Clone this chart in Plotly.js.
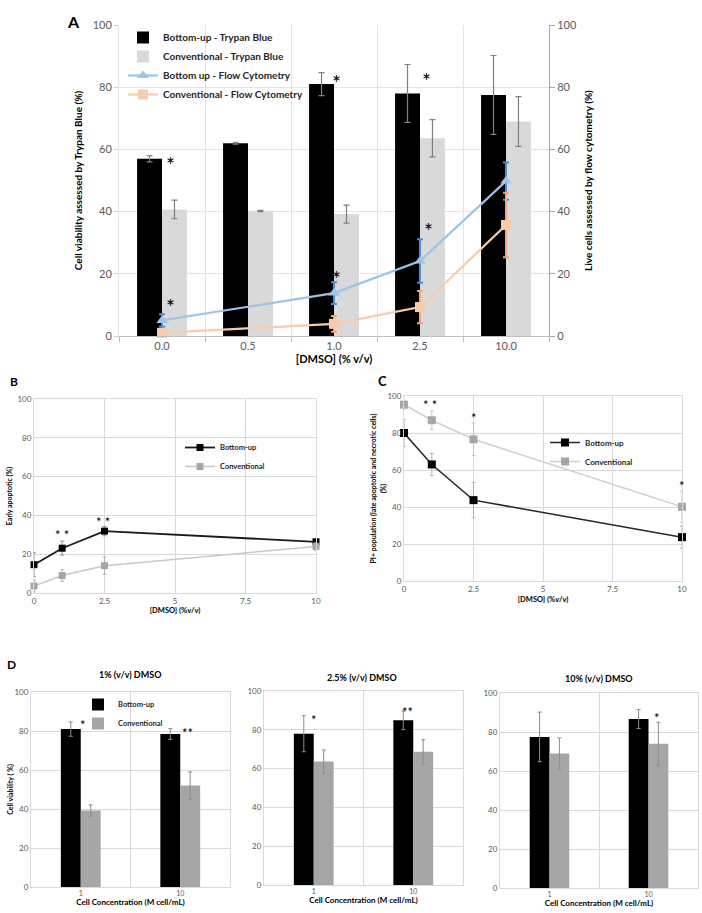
<!DOCTYPE html>
<html>
<head>
<meta charset="utf-8">
<script src="https://cdn.plot.ly/plotly-3.0.1.min.js"></script>
<style>
  html, body { margin: 0; padding: 0; background: #ffffff; }
  #fig { width: 702px; height: 913px; }
</style>
</head>
<body>
<div id="fig"></div>
<script>
// ---- Panel A: viability vs DMSO concentration ----
const doseLabels = ['0.0', '0.5', '1.0', '2.5', '10.0'];
const tbBottomUp = [57, 62, 81, 78, 77.5];
const tbBottomUpErr = [1, 0.3, 3.7, 9.3, 12.7];
const tbConventional = [40.7, 40.2, 39.2, 63.6, 69];
const tbConventionalErr = [3, 0.2, 2.9, 6, 8];
const fcBottomUp = [5, null, 13.8, 24.1, 49.8];
const fcBottomUpErr = [2, 0, 3.5, 7, 6];
const fcConventional = [1, null, 3.9, 9.3, 35.7];
const fcConventionalErr = [1, 0, 2.5, 5.2, 10.4];

// ---- Panels B and C: apoptosis / PI+ vs DMSO ----
const doseValues = [0, 1, 2.5, 10];
const earlyBottomUp = [14.6, 23.1, 31.9, 26.4];
const earlyBottomUpErr = [6.2, 3.6, 2.4, 1];
const earlyConventional = [3.6, 9, 14.1, 24];
const earlyConventionalErr = [3, 3, 4.5, 2];
const piBottomUp = [80, 63, 43.7, 23.7];
const piBottomUpErr = [7.3, 6, 9.5, 6];
const piConventional = [95.3, 86.9, 76.6, 40.1];
const piConventionalErr = [2.5, 5, 8.8, 8.5];

// ---- Panel D: viability vs cell concentration ----
const concLabels = ['1', '10'];
const d1BottomUp = [81, 78.5];
const d1BottomUpErr = [3.7, 2.8];
const d1Conventional = [39.2, 52];
const d1ConventionalErr = [2.9, 7];
const d2BottomUp = [78, 84.9];
const d2BottomUpErr = [9.3, 4.8];
const d2Conventional = [63.6, 68.7];
const d2ConventionalErr = [6, 6.2];
const d3BottomUp = [77.5, 86.7];
const d3BottomUpErr = [12.7, 4.9];
const d3Conventional = [69, 74];
const d3ConventionalErr = [8, 11];

const FONT = 'Lato, "Open Sans", sans-serif';
const TICK = '#595959';
const GRID = '#d9d9d9';
const idx = arr => arr.map((_, i) => i);

const doseIdx = idx(doseLabels);
const concIdx = idx(concLabels);

function errBars(arr, color, w, t) {
  return { type: 'data', array: arr, visible: true, color: color, thickness: t || 1, width: w || 3 };
}

const traces = [
  // Panel A bars
  { type: 'bar', x: doseIdx, y: tbBottomUp, width: 0.29, offset: -0.29,
    name: 'Bottom-up - Trypan Blue', marker: { color: '#000000' },
    error_y: errBars(tbBottomUpErr, '#808080', 3, 1.2), xaxis: 'x', yaxis: 'y',
    legend: 'legend', legendgroup: 'a1' },
  { type: 'bar', x: doseIdx, y: tbConventional, width: 0.29, offset: 0,
    name: 'Conventional - Trypan Blue', marker: { color: '#d9d9d9' },
    error_y: errBars(tbConventionalErr, '#7f7f7f', 3, 1.2), xaxis: 'x', yaxis: 'y',
    legend: 'legend', legendgroup: 'a2' },
  // Panel A flow cytometry lines (right axis)
  { type: 'scatter', mode: 'lines+markers', x: doseIdx, y: fcBottomUp, connectgaps: true,
    name: 'Bottom up - Flow Cytometry', line: { color: '#9dc3e6', width: 2.2 },
    marker: { symbol: 'triangle-up', size: 10, color: '#9dc3e6' },
    error_y: errBars(fcBottomUpErr, '#4a8fd8', 3, 2), xaxis: 'x', yaxis: 'y2',
    cliponaxis: false, legend: 'legend', legendgroup: 'a3' },
  { type: 'scatter', mode: 'lines+markers', x: doseIdx, y: fcConventional, connectgaps: true,
    name: 'Conventional - Flow Cytometry', line: { color: '#f8cbad', width: 2.2 },
    marker: { symbol: 'square', size: 10, color: '#f8cbad' },
    error_y: errBars(fcConventionalErr, '#f4a57c', 3, 2), xaxis: 'x', yaxis: 'y2',
    cliponaxis: false, legend: 'legend', legendgroup: 'a4' },

  // Panel B
  { type: 'scatter', mode: 'lines+markers', x: doseValues, y: earlyBottomUp,
    name: 'Bottom-up', line: { color: '#1a1a1a', width: 1.8 },
    marker: { symbol: 'square', size: 7, color: '#000000' },
    error_y: errBars(earlyBottomUpErr, '#7f7f7f', 2, 0.8), xaxis: 'x2', yaxis: 'y3',
    cliponaxis: false, legend: 'legend2' },
  { type: 'scatter', mode: 'lines+markers', x: doseValues, y: earlyConventional,
    name: 'Conventional', line: { color: '#c8c8c8', width: 1.5 },
    marker: { symbol: 'square', size: 7, color: '#a6a6a6' },
    error_y: errBars(earlyConventionalErr, '#a6a6a6', 2, 0.8), xaxis: 'x2', yaxis: 'y3',
    cliponaxis: false, legend: 'legend2' },

  // Panel C
  { type: 'scatter', mode: 'lines+markers', x: doseValues, y: piBottomUp,
    name: 'Bottom-up', line: { color: '#262626', width: 1.5 },
    marker: { symbol: 'square', size: 8, color: '#000000' },
    error_y: errBars(piBottomUpErr, '#a6a6a6', 2, 0.8), xaxis: 'x3', yaxis: 'y4',
    cliponaxis: false, legend: 'legend3' },
  { type: 'scatter', mode: 'lines+markers', x: doseValues, y: piConventional,
    name: 'Conventional', line: { color: '#cfcfcf', width: 1.5 },
    marker: { symbol: 'square', size: 8, color: '#a6a6a6' },
    error_y: errBars(piConventionalErr, '#bfbfbf', 2, 0.8), xaxis: 'x3', yaxis: 'y4',
    cliponaxis: false, legend: 'legend3' }
];

// Panel D: three grouped-bar subplots
const dSets = [
  [d1BottomUp, d1BottomUpErr, d1Conventional, d1ConventionalErr],
  [d2BottomUp, d2BottomUpErr, d2Conventional, d2ConventionalErr],
  [d3BottomUp, d3BottomUpErr, d3Conventional, d3ConventionalErr]
];
dSets.forEach((s, k) => {
  const xa = 'x' + (k + 4), ya = 'y' + (k + 5);
  traces.push({ type: 'bar', x: concIdx, y: s[0], width: 0.2, offset: -0.2,
    name: 'Bottom-up', marker: { color: '#000000' },
    error_y: errBars(s[1], '#8c8c8c', 2, 1), xaxis: xa, yaxis: ya,
    legend: 'legend4', showlegend: k === 0 });
  traces.push({ type: 'bar', x: concIdx, y: s[2], width: 0.2, offset: 0,
    name: 'Conventional', marker: { color: '#a6a6a6' },
    error_y: errBars(s[3], '#8c8c8c', 2, 1), xaxis: xa, yaxis: ya,
    legend: 'legend4', showlegend: k === 0 });
});

const W = 702, H = 913;
const dx = (a, b) => [a / W, b / W];
const dy = (top, bottom) => [1 - bottom / H, 1 - top / H];

function valueAxis(domain, fs, extra) {
  return Object.assign({
    domain: domain, range: [0, 100], dtick: 20, showgrid: true, gridcolor: GRID,
    zeroline: false, tickfont: { family: FONT, size: fs, color: TICK },
    showline: true, linecolor: GRID, mirror: true, ticks: ''
  }, extra || {});
}
function catAxis(domain, labels, fs, extra) {
  return Object.assign({
    domain: domain, range: [-0.5, labels.length - 0.5],
    tickvals: idx(labels), ticktext: labels, ticks: '', showgrid: false, zeroline: false,
    tickfont: { family: FONT, size: fs, color: TICK },
    showline: true, linecolor: GRID, mirror: true,
    minor: { tick0: -0.5, dtick: 1, showgrid: true, gridcolor: GRID, ticks: '' }
  }, extra || {});
}
function dseAxis(domain) {
  return {
    domain: domain, range: [0, 10], tickvals: [0, 2.5, 5, 7.5, 10],
    ticktext: ['0', '2.5', '5', '7.5', '10'], showgrid: true, gridcolor: GRID,
    zeroline: false, showline: true, linecolor: GRID, mirror: true,
    tickfont: { family: FONT, size: 8, color: TICK }
  };
}
function btitle(text, size, standoff) {
  return { text: text, font: { family: FONT, size: size, color: '#000000', weight: 'bold' }, standoff: standoff };
}

const layout = {
  width: W, height: H,
  margin: { l: 0, r: 0, t: 0, b: 0 },
  paper_bgcolor: '#ffffff', plot_bgcolor: '#ffffff',
  barmode: 'overlay',
  font: { family: FONT },
  // Panel A axes
  xaxis: catAxis(dx(119, 549), doseLabels, 11, {
    mirror: false, linecolor: '#bfbfbf',
    minor: { tick0: -0.5, dtick: 1, showgrid: true, gridcolor: '#e4e4e4', ticks: 'outside', ticklen: 5, tickcolor: '#bfbfbf' },
    title: btitle('[DMSO] (% v/v)', 11, 3)
  }),
  yaxis: valueAxis(dy(25, 336), 11, {
    mirror: false, linecolor: '#e4e4e4', gridcolor: '#e4e4e4', ticks: 'outside', ticklen: 4, tickcolor: '#d0d0d0',
    title: btitle('Cell viability assessed by Trypan Blue (%)', 10, 8)
  }),
  yaxis2: valueAxis(dy(25, 336), 11, {
    overlaying: 'y', side: 'right', anchor: 'x', showgrid: false, mirror: false,
    linecolor: '#a6a6a6', ticks: 'outside', ticklen: 5, tickcolor: '#a6a6a6',
    title: btitle('Live cells assessed by flow cytometry (%)', 10, 9)
  }),
  // Panel B axes
  xaxis2: Object.assign(dseAxis(dx(34, 316)), { anchor: 'y3', title: btitle('[DMSO] (%v/v)', 7.5, 1) }),
  yaxis3: valueAxis(dy(399, 593), 8, { anchor: 'x2', title: btitle('Early apoptotic (%)', 7, 4) }),
  // Panel C axes
  xaxis3: Object.assign(dseAxis(dx(404, 682)), { anchor: 'y4', title: btitle('[DMSO] (%v/v)', 7.5, 4) }),
  yaxis4: valueAxis(dy(396, 581), 8, { anchor: 'x3',
    title: btitle('PI+ population (late apoptotic and necrotic cells)<br>(%)', 7, 0) }),
  // Panel D axes
  xaxis4: catAxis(dx(31, 230), concLabels, 7, { anchor: 'y5', title: btitle('Cell Concentration (M cell/mL)', 8, 1) }),
  yaxis5: valueAxis(dy(692, 887), 8, { anchor: 'x4', title: btitle('Cell viability ( %)', 7, 0) }),
  xaxis5: catAxis(dx(264, 463), concLabels, 7, { anchor: 'y6', title: btitle('Cell Concentration (M cell/mL)', 8, 1) }),
  yaxis6: valueAxis(dy(691, 885), 8, { anchor: 'x5' }),
  xaxis6: catAxis(dx(500, 698), concLabels, 7, { anchor: 'y7', title: btitle('Cell Concentration (M cell/mL)', 8, 1) }),
  yaxis7: valueAxis(dy(693, 888), 8, { anchor: 'x6' }),

  legend: { x: 123 / W, y: 1 - 23 / H, xanchor: 'left', yanchor: 'top', bgcolor: 'rgba(0,0,0,0)',
    font: { family: FONT, size: 10, color: '#262626', weight: 'bold' }, tracegroupgap: 0, traceorder: 'normal' },
  legend2: { x: 180 / W, y: 1 - 433 / H, xanchor: 'left', yanchor: 'top', bgcolor: 'rgba(0,0,0,0)',
    font: { family: FONT, size: 7.5, color: '#262626', weight: 'bold' } },
  legend3: { x: 545 / W, y: 1 - 428 / H, xanchor: 'left', yanchor: 'top', bgcolor: 'rgba(0,0,0,0)',
    font: { family: FONT, size: 8, color: '#262626', weight: 'bold' } },
  legend4: { x: 78 / W, y: 1 - 690 / H, xanchor: 'left', yanchor: 'top', bgcolor: 'rgba(0,0,0,0)',
    font: { family: FONT, size: 7.5, color: '#262626', weight: 'bold' } },
  annotations: []
};

// Panel letters and panel D titles
const paperText = [
  ['A', 73, 22, 16], ['B', 14, 381, 12], ['C', 382, 381, 13], ['D', 11, 664, 12],
  ['1% (v/v) DMSO', 130, 674, 9], ['2.5% (v/v) DMSO', 362, 677, 9], ['10% (v/v) DMSO', 599, 678, 9]
];
paperText.forEach(t => layout.annotations.push({
  xref: 'paper', yref: 'paper', x: t[1] / W, y: 1 - t[2] / H, text: '<b>' + t[0] + '</b>',
  showarrow: false, xanchor: 'center', yanchor: 'middle',
  font: { family: FONT, size: t[3], color: '#000000' }
}));

// Significance markers
const stars = [
  ['x', 'y', 0.1, 55.3, '*', 21], ['x', 'y', 0.1, 9.6, '*', 21], ['x', 'y', 2.03, 81.6, '*', 21],
  ['x', 'y', 2.03, 18.6, '*', 21], ['x', 'y', 3.08, 82, '*', 21], ['x', 'y', 3.1, 33.8, '*', 21],
  ['x2', 'y3', 1.0, 29.8, '* *', 13], ['x2', 'y3', 2.45, 36.5, '* *', 13],
  ['x3', 'y4', 0, 101.2, '*', 13], ['x3', 'y4', 0.95, 95, '* *', 13], ['x3', 'y4', 2.5, 88, '*', 13],
  ['x3', 'y4', 10, 51.2, '*', 13],
  ['x4', 'y5', 0.02, 83, '*', 13], ['x4', 'y5', 1.07, 79, '**', 13],
  ['x5', 'y6', 0.0, 85, '*', 13], ['x5', 'y6', 0.94, 89, '**', 13],
  ['x6', 'y7', 1.09, 87, '*', 13]
];
stars.forEach(s => layout.annotations.push({
  xref: s[0], yref: s[1], x: s[2], y: s[3], text: s[4], showarrow: false,
  xanchor: 'center', yanchor: 'middle', font: { family: FONT, size: s[5], color: '#000000' }
}));

Plotly.newPlot('fig', traces, layout, { staticPlot: true, displayModeBar: false });
</script>
</body>
</html>
